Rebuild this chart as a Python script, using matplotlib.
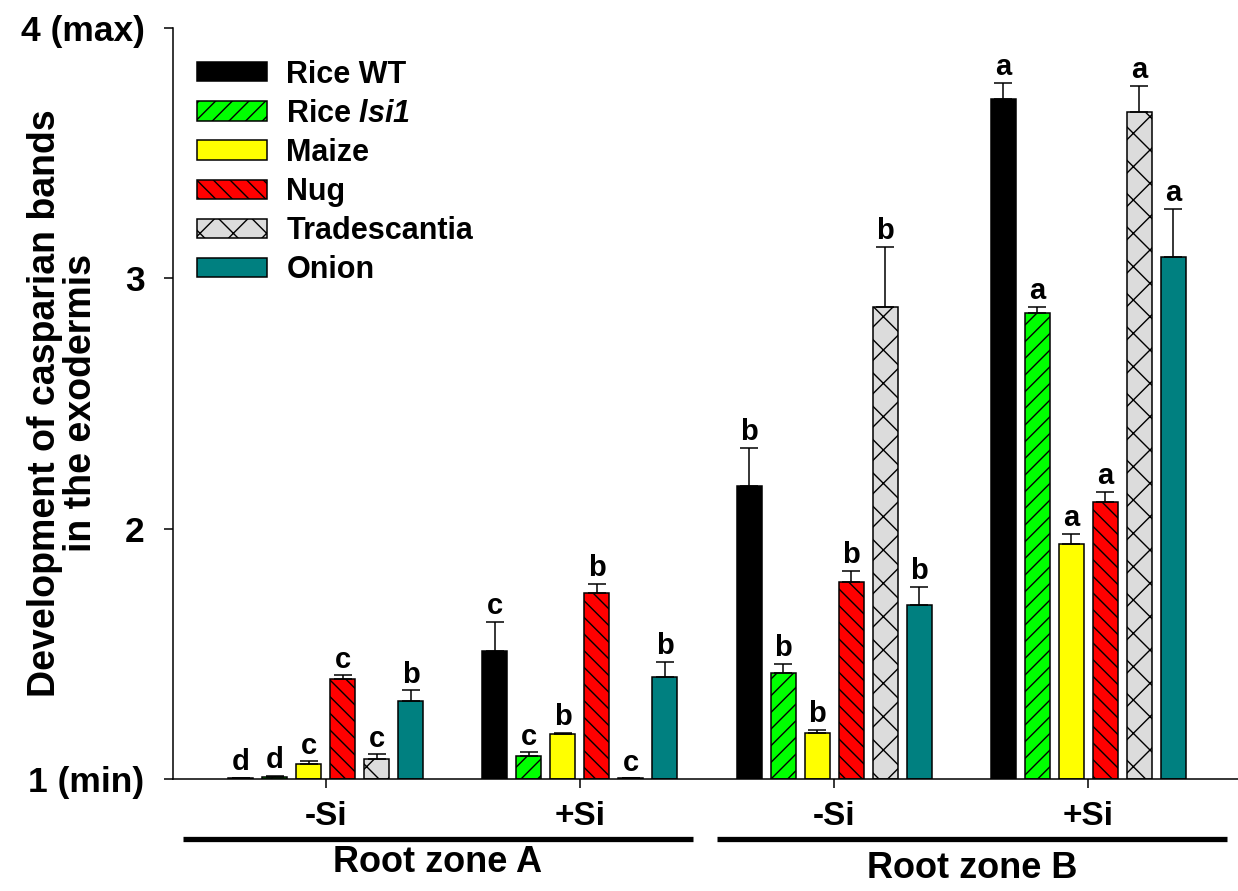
import matplotlib.pyplot as plt
import numpy as np

plt.rcParams['font.family'] = 'Liberation Sans'
plt.rcParams['font.weight'] = 'bold'
plt.rcParams['mathtext.fontset'] = 'custom'
plt.rcParams['mathtext.rm'] = 'Liberation Sans:bold:italic'
plt.rcParams['mathtext.it'] = 'Liberation Sans:bold:italic'
plt.rcParams['hatch.linewidth'] = 1.0

# data (value, upper error, significance letter)
groups = ['-Si', '+Si', '-Si', '+Si']
zones = ['Root zone A', 'Root zone B']
species = ['Rice WT', r'Rice $\mathrm{lsi1}$', 'Maize', 'Nug', 'Tradescantia', 'Onion']

rice_wt = [1.005, 1.511, 2.171, 3.717]
rice_wt_err = [0.0, 0.117, 0.151, 0.065]
rice_wt_let = ['d', 'c', 'b', 'a']

rice_lsi1 = [1.009, 1.092, 1.423, 2.860]
rice_lsi1_err = [0.003, 0.015, 0.036, 0.027]
rice_lsi1_let = ['d', 'c', 'b', 'a']

maize = [1.061, 1.179, 1.183, 1.939]
maize_err = [0.010, 0.005, 0.013, 0.040]
maize_let = ['c', 'b', 'b', 'a']

nug = [1.400, 1.742, 1.788, 2.107]
nug_err = [0.014, 0.037, 0.043, 0.040]
nug_let = ['c', 'b', 'b', 'a']

trad = [1.081, 1.003, 2.886, 3.666]
trad_err = [0.018, 0.0, 0.239, 0.104]
trad_let = ['c', 'c', 'b', 'a']

onion = [1.312, 1.409, 1.695, 3.087]
onion_err = [0.042, 0.060, 0.073, 0.190]
onion_let = ['b', 'b', 'b', 'a']

values = [rice_wt, rice_lsi1, maize, nug, trad, onion]
errors = [rice_wt_err, rice_lsi1_err, maize_err, nug_err, trad_err, onion_err]
letters = [rice_wt_let, rice_lsi1_let, maize_let, nug_let, trad_let, onion_let]

colors = ['black', '#00ff00', '#ffff00', '#ff0000', '#dcdcdc', '#008080']
hatches = [None, '//', None, '\\\\', 'x', None]

fig = plt.figure(figsize=(12.38, 8.91), dpi=100)
ax = fig.add_axes([173 / 1238, 112 / 891, 1068 / 1238, 751 / 891])

x = np.arange(len(groups))
pitch = 0.1337
width = 0.098
for i in range(len(species)):
    xs = x + (i - 2.5) * pitch
    v = np.array(values[i])
    e = np.array(errors[i])
    ax.bar(xs, v - 1, width, bottom=1, color=colors[i], edgecolor='black',
           linewidth=1.1, hatch=hatches[i], label=species[i], zorder=2)
    ax.errorbar(xs, v, yerr=[np.zeros_like(e), e], fmt='none', ecolor='black',
                elinewidth=1.1, capsize=6.5, capthick=1.1, zorder=3)
    for xi, top, lab in zip(xs, v + e, letters[i]):
        ax.annotate(lab, (xi, top), xytext=(0, 5.5), textcoords='offset points',
                    ha='center', va='baseline', fontsize=21, fontweight='bold')

ax.set_xlim(-0.6, 3.6)
ax.set_ylim(1, 4)
ax.set_yticks([1, 2, 3, 4])
ax.set_yticklabels(['1 (min)', '2', '3', '4 (max)'], fontsize=25.5, fontweight='bold')
ax.set_xticks(x)
ax.set_xticklabels(groups, fontsize=24, fontweight='bold')
ax.tick_params(axis='y', direction='out', length=6.5, width=1.1, pad=14)
ax.tick_params(axis='x', direction='out', length=6.5, width=1.1, pad=9)
for s in ['top', 'right']:
    ax.spines[s].set_visible(False)
for s in ['left', 'bottom']:
    ax.spines[s].set_linewidth(1.1)

ax.set_ylabel('Development of casparian bands\nin the exodermis', fontsize=27,
              fontweight='bold', linespacing=1.0)
ax.yaxis.set_label_coords(-0.069, 0.5)

# zone brackets under the axis
trans = ax.get_xaxis_transform()
for (x0, x1), name, ty in zip([(-0.561, 1.444), (1.539, 3.544)], zones, [-0.111, -0.119]):
    ax.plot([x0, x1], [-0.08, -0.08], color='black', lw=3.8, transform=trans,
            clip_on=False, solid_capstyle='butt')
    ax.text((x0 + x1) / 2, ty, name, transform=trans, ha='center', va='center',
            fontsize=26, fontweight='bold')

ax.legend(loc='upper left', bbox_to_anchor=(0.0225, 0.958), frameon=False,
          fontsize=22, handlelength=2.3, handleheight=0.6, handletextpad=0.62,
          labelspacing=0.3, borderpad=0, borderaxespad=0)

fig.savefig('out.png', dpi=100)
